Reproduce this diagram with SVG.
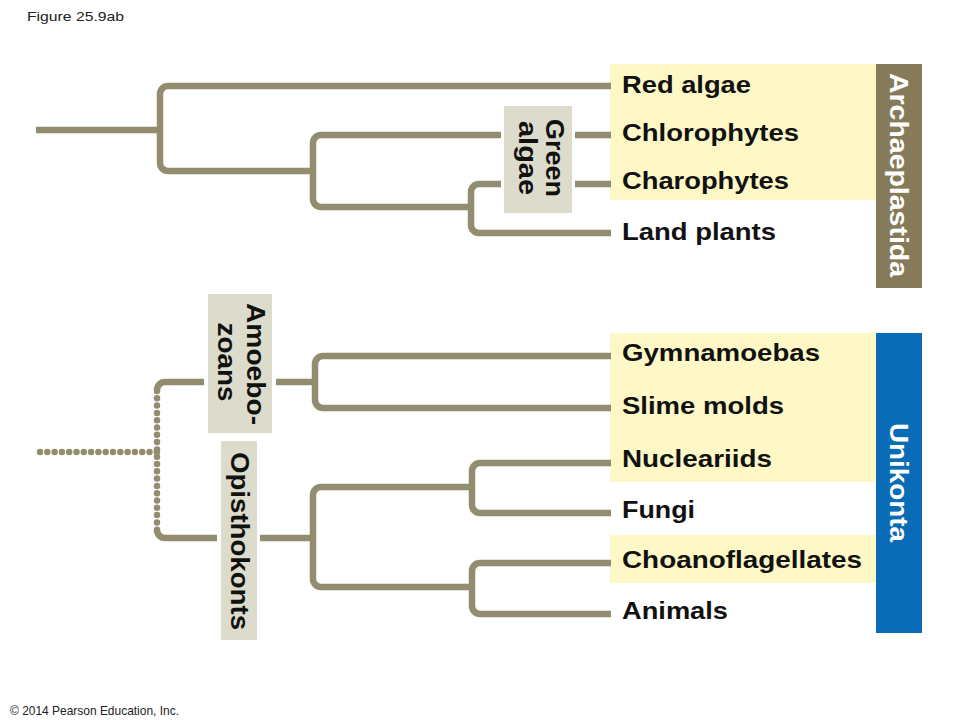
<svg xmlns="http://www.w3.org/2000/svg" width="960" height="720" viewBox="0 0 960 720">
<style>
.br{fill:none;stroke:#928d6e;stroke-width:6.5}
.dot{fill:none;stroke:#928d6e;stroke-width:6.5;stroke-linecap:round;stroke-dasharray:0 7.3}
.lbl{font-family:"Liberation Sans",Arial,sans-serif;font-weight:bold;font-size:24px;fill:#111}
.vl{font-family:"Liberation Sans",Arial,sans-serif;font-weight:bold;font-size:25px;fill:#111;text-anchor:middle}
.wl{font-family:"Liberation Sans",Arial,sans-serif;font-weight:bold;font-size:25px;fill:#fff}
.sm{font-family:"Liberation Sans",Arial,sans-serif;font-size:13px;fill:#222}
.yb{fill:#fdf8c6}
.gb{fill:#dcdbcc}
</style>
<rect width="960" height="720" fill="#fff"/>
<text class="sm" x="27" y="21" font-size="14" textLength="97" lengthAdjust="spacingAndGlyphs">Figure 25.9ab</text>
<text class="sm" x="10" y="715" textLength="169" lengthAdjust="spacingAndGlyphs">© 2014 Pearson Education, Inc.</text>

<g id="bg">
<rect class="yb" x="610" y="64" width="266" height="136"/>
<rect class="yb" x="610" y="333" width="266" height="149"/>
<rect class="yb" x="610" y="535" width="266" height="48"/>
</g>

<g id="connectors">
<path class="br" d="M36 130 H160"/>
<path class="br" d="M611 86 H168 A8 8 0 0 0 160 94 V163 A8 8 0 0 0 168 171 H313"/>
<path class="br" d="M611 135 H321 A8 8 0 0 0 313 143 V199 A8 8 0 0 0 321 207 H471"/>
<path class="br" d="M611 184 H479 A8 8 0 0 0 471 192 V225 A8 8 0 0 0 479 233 H611"/>
<path class="dot" d="M40 452 H157"/>
<path class="dot" d="M157 391 V531"/>
<path class="br" d="M157 390 A8 8 0 0 1 165 382 H315"/>
<path class="br" d="M157 530 A8 8 0 0 0 165 538 H313"/>
<path class="br" d="M611 356 H323 A8 8 0 0 0 315 364 V400 A8 8 0 0 0 323 408 H611"/>
<path class="br" d="M471 487 H321 A8 8 0 0 0 313 495 V579 A8 8 0 0 0 321 587 H471"/>
<path class="br" d="M611 463 H480 A8 8 0 0 0 472 471 V505 A8 8 0 0 0 480 513 H611"/>
<path class="br" d="M611 563 H480 A8 8 0 0 0 472 571 V606 A8 8 0 0 0 480 614 H611"/>
</g>

<g id="green-algae">
<rect fill="#fff" x="501" y="104" width="74" height="111"/>
<rect class="gb" x="504" y="106" width="68" height="107"/>
<text class="vl" transform="translate(546,158) rotate(90)" textLength="78" lengthAdjust="spacingAndGlyphs">Green</text>
<text class="vl" transform="translate(519,158) rotate(90)" textLength="74" lengthAdjust="spacingAndGlyphs">algae</text>
</g>

<g id="amoebozoans">
<rect fill="#fff" x="204" y="292" width="72" height="143"/>
<rect class="gb" x="208" y="294" width="64" height="139"/>
<text class="vl" transform="translate(247,364) rotate(90)" textLength="122" lengthAdjust="spacingAndGlyphs">Amoebo-</text>
<text class="vl" transform="translate(218,362) rotate(90)" textLength="79" lengthAdjust="spacingAndGlyphs">zoans</text>
</g>

<g id="opisthokonts">
<rect fill="#fff" x="217" y="439" width="43" height="203"/>
<rect class="gb" x="221" y="441" width="36" height="199"/>
<text class="vl" transform="translate(231,541) rotate(90)" textLength="178" lengthAdjust="spacingAndGlyphs">Opisthokonts</text>
</g>

<g id="archaeplastida">
<rect fill="#857b5a" x="876" y="64" width="46" height="224"/>
<text class="wl" transform="translate(890,73) rotate(90)" textLength="204" lengthAdjust="spacingAndGlyphs">Archaeplastida</text>
</g>

<g id="unikonta">
<rect fill="#0a6cb6" x="876" y="333" width="46" height="300"/>
<text class="wl" transform="translate(890,423) rotate(90)" textLength="119" lengthAdjust="spacingAndGlyphs">Unikonta</text>
</g>

<g id="red-algae"><text class="lbl" x="622" y="93" textLength="129" lengthAdjust="spacingAndGlyphs">Red algae</text></g>
<g id="chlorophytes"><text class="lbl" x="622" y="141" textLength="177" lengthAdjust="spacingAndGlyphs">Chlorophytes</text></g>
<g id="charophytes"><text class="lbl" x="622" y="189" textLength="167" lengthAdjust="spacingAndGlyphs">Charophytes</text></g>
<g id="land-plants"><text class="lbl" x="622" y="240" textLength="154" lengthAdjust="spacingAndGlyphs">Land plants</text></g>
<g id="gymnamoebas"><text class="lbl" x="622" y="361" textLength="198" lengthAdjust="spacingAndGlyphs">Gymnamoebas</text></g>
<g id="slime-molds"><text class="lbl" x="622" y="414" textLength="162" lengthAdjust="spacingAndGlyphs">Slime molds</text></g>
<g id="nucleariids"><text class="lbl" x="622" y="467" textLength="150" lengthAdjust="spacingAndGlyphs">Nucleariids</text></g>
<g id="fungi"><text class="lbl" x="622" y="518" textLength="73" lengthAdjust="spacingAndGlyphs">Fungi</text></g>
<g id="choanoflagellates"><text class="lbl" x="622" y="568" textLength="240" lengthAdjust="spacingAndGlyphs">Choanoflagellates</text></g>
<g id="animals"><text class="lbl" x="622" y="619" textLength="106" lengthAdjust="spacingAndGlyphs">Animals</text></g>
</svg>
